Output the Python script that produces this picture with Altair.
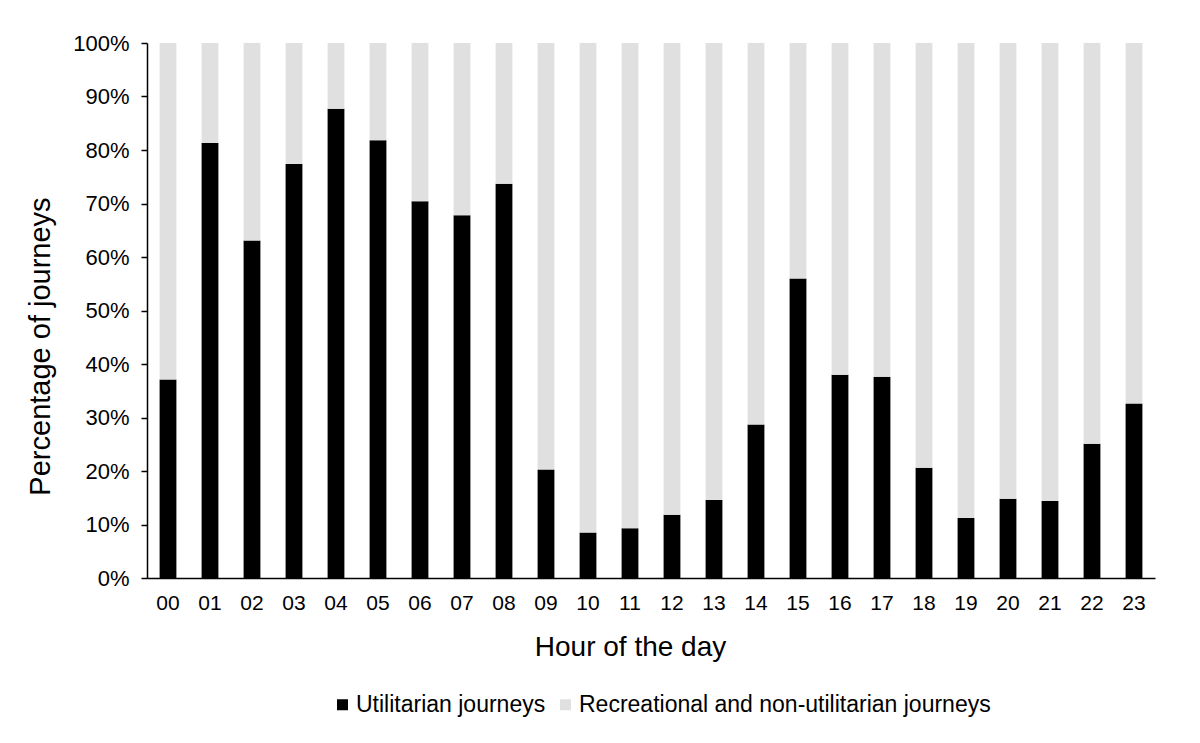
import altair as alt
import pandas as pd

hours = ["00", "01", "02", "03", "04", "05", "06", "07", "08", "09", "10", "11",
         "12", "13", "14", "15", "16", "17", "18", "19", "20", "21", "22", "23"]
utilitarian = [37.1, 81.3, 63.1, 77.4, 87.7, 81.8, 70.4, 67.8, 73.7, 20.3, 8.5, 9.3,
               11.8, 14.6, 28.7, 56.0, 38.0, 37.6, 20.6, 11.2, 14.8, 14.4, 25.1, 32.6]
recreational = [62.9, 18.7, 36.9, 22.6, 12.3, 18.2, 29.6, 32.2, 26.3, 79.7, 91.5, 90.7,
                88.2, 85.4, 71.3, 44.0, 62.0, 62.4, 79.4, 88.8, 85.2, 85.6, 74.9, 67.4]
series_names = ["Utilitarian journeys", "Recreational and non-utilitarian journeys"]
series_colors = ["#000000", "#e0e0e0"]
y_ticks = [0, 10, 20, 30, 40, 50, 60, 70, 80, 90, 100]

rows = []
for h, u, r in zip(hours, utilitarian, recreational):
    rows.append({"hour": h, "series": series_names[0], "value": u, "order": 0})
    rows.append({"hour": h, "series": series_names[1], "value": r, "order": 1})
df = pd.DataFrame(rows)

FONT = "Liberation Sans"

chart = alt.Chart(df).mark_bar().encode(
    x=alt.X("hour:N", sort=hours,
            scale=alt.Scale(paddingInner=0.6, paddingOuter=0.3),
            axis=alt.Axis(title="Hour of the day", labelAngle=0, ticks=False, tickSize=0,
                          labelPadding=14, labelFontSize=21, labelColor="#000000",
                          labelFont=FONT, domainColor="#000000", domainWidth=1.5,
                          titleFont=FONT, titleFontSize=28, titleFontWeight="normal",
                          titleColor="#000000", titleBaseline="alphabetic", titleY=77,
                          titleX=483, titleAlign="center")),
    y=alt.Y("value:Q", stack="zero",
            scale=alt.Scale(domain=[0, 100], nice=False),
            axis=alt.Axis(title="Percentage of journeys", values=y_ticks,
                          labelExpr="datum.value + '%'", grid=False,
                          tickSize=6, tickColor="#000000", tickWidth=1.5,
                          domainColor="#000000", domainWidth=1.5,
                          labelPadding=12, labelFontSize=22, labelColor="#000000",
                          labelFont=FONT, titleFont=FONT, titleFontSize=29,
                          titleFontWeight="normal", titleColor="#000000",
                          titleBaseline="alphabetic", titleX=-98, titleY=303,
                          titleAngle=270)),
    color=alt.Color("series:N", sort=series_names,
                    scale=alt.Scale(domain=series_names, range=series_colors),
                    legend=alt.Legend(title=None, orient="none", direction="horizontal",
                                      legendX=184, legendY=650, symbolType="square",
                                      symbolSize=121, symbolStrokeWidth=0,
                                      labelFont=FONT, labelFontSize=23, labelLimit=0,
                                      labelColor="#000000", labelOffset=2,
                                      columnPadding=8)),
    order=alt.Order("order:Q", sort="ascending"),
).properties(
    width=1008, height=535,
    autosize=alt.AutoSizeParams(type="none"),
    padding={"left": 139, "top": 35, "right": 37, "bottom": 157},
).configure_view(stroke=None)

chart.save("out.html", embed_options={"renderer": "svg", "actions": False})
